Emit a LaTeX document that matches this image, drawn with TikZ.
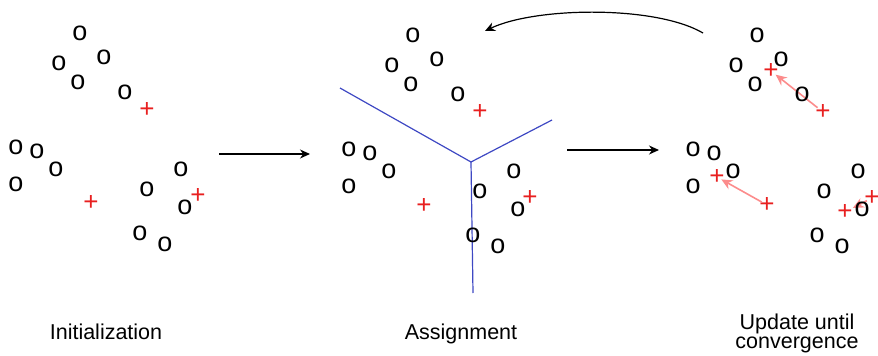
\documentclass[tikz,border=0pt]{standalone}
\usepackage{fontspec}
\setmainfont{Liberation Sans}
\usetikzlibrary{arrows.meta}
\definecolor{plusred}{RGB}{232,32,32}
\definecolor{pinkish}{RGB}{252,140,140}
\definecolor{voronoi}{RGB}{62,72,195}
\tikzset{
  pt/.style={font=\fontsize{27}{27}\selectfont, inner sep=0pt},
  cen/.style={text=plusred, font=\fontsize{26}{26}\selectfont, inner sep=0pt},
  lbl/.style={font=\fontsize{21.5}{19.5}\selectfont, inner sep=0pt, align=center},
  flow/.style={-{Stealth[length=10pt,width=9pt]}, line width=1.2pt},
  move/.style={draw=pinkish, line width=1.6pt, -{Stealth[length=11pt,width=10pt]}},
  border/.style={draw=voronoi, line width=1.2pt}
}
\newcommand\pointset[1]{%
  \node[pt] (#1o1) at (80,33) {o};
  \node[pt] (#1o2) at (59,63) {o};
  \node[pt] (#1o3) at (104,57) {o};
  \node[pt] (#1o4) at (78,82) {o};
  \node[pt] (#1o5) at (125,92) {o};
  \node[pt] (#1o6) at (16,147) {o};
  \node[pt] (#1o7) at (37,151) {o};
  \node[pt] (#1o8) at (56,169) {o};
  \node[pt] (#1o9) at (16,184) {o};
  \node[pt] (#1o10) at (147,189) {o};
  \node[pt] (#1o11) at (181,169) {o};
  \node[pt] (#1o12) at (185,207) {o};
  \node[pt] (#1o13) at (140,233) {o};
  \node[pt] (#1o14) at (165,244) {o};
}
\begin{document}
\begin{tikzpicture}[x=1pt,y=-1pt]
\useasboundingbox (0,0) rectangle (878,356);

% --- Initialization ---
\pointset{a}
\node[cen] (ap1) at (147,110) {+};
\node[cen] (ap2) at (91,203) {+};
\node[cen] (ap3) at (198,196) {+};

% --- Assignment ---
\coordinate (vc) at (471,162);
\coordinate (v1) at (340,88);
\coordinate (v2) at (552,120);
\coordinate (v3) at (473,293);
\draw[border] (v1) -- (vc) -- (v2);
\draw[border] (vc) -- (v3);
\begin{scope}[shift={(333,2)}]
\pointset{b}
\end{scope}
\node[cen] (bp1) at (480,112) {+};
\node[cen] (bp2) at (424,206) {+};
\node[cen] (bp3) at (530,198) {+};

% --- Update ---
\node[cen] (cq1) at (823,112) {+};
\node[cen] (cq2) at (767,205) {+};
\node[cen] (cq3) at (872,198) {+};
\node[cen] (cp1) at (771,71) {+};
\node[cen] (cp2) at (717,177) {+};
\node[cen] (cp3) at (845,212) {+};
\draw[move, shorten <=-3pt, shorten >=-4pt] (cq1) -- (cp1);
\draw[move, shorten <=-3pt, shorten >=-4pt] (cq2) -- (cp2);
\draw[move, shorten <=-3pt] (cq3) -- (cp3);
\begin{scope}[shift={(677,2)}]
\pointset{c}
\end{scope}

% --- flow arrows ---
\coordinate (f1s) at (219,154);
\coordinate (f1e) at (310,154);
\coordinate (f2s) at (567,150);
\coordinate (f2e) at (659,150);
\draw[flow] (f1s) -- (f1e);
\draw[flow] (f2s) -- (f2e);
\coordinate (rs) at (703,33);
\coordinate (re) at (485,31);
\draw[flow] (rs) .. controls (655,5) and (535,7) .. (re);

% --- labels ---
\node[lbl, anchor=base] (l1) at (106,339) {Initialization};
\node[lbl, anchor=base] (l2) at (461,339) {Assignment};
\node[lbl] (l3) at (797,333.5) {Update until\\convergence};
\end{tikzpicture}
\end{document}
